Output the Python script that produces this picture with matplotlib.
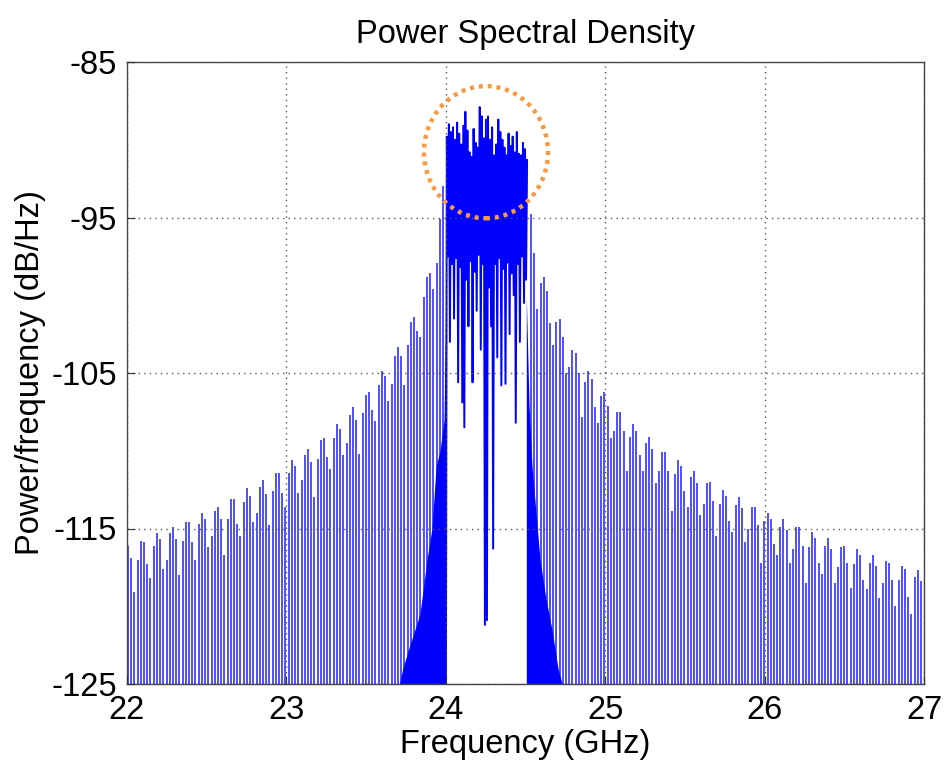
import numpy as np
import matplotlib
matplotlib.use("Agg")
import matplotlib.pyplot as plt
from matplotlib.patches import Ellipse

plt.rcParams['font.family'] = ['Liberation Sans', 'DejaVu Sans']

# ---------------- data ----------------
title = "Power Spectral Density"
xlabel = "Frequency (GHz)"
ylabel = "Power/frequency (dB/Hz)"
xticks = [22, 23, 24, 25, 26, 27]
yticks = [-125, -115, -105, -95, -85]

# lower side-lobe spike peaks (dB/Hz), evenly spaced from 22.006 to 23.982 GHz
left_range = (22.006, 23.982)
left_peaks = [
    -116.1, -116.9, -119.1, -117.0, -115.8, -115.9, -117.3, -118.2, -116.1, -115.3,
    -115.7, -117.6, -117.0, -115.3, -114.9, -115.7, -118.0, -115.8, -114.6, -114.6,
    -115.9, -117.0, -114.7, -114.0, -114.4, -116.2, -115.5, -113.9, -113.6, -114.4,
    -116.7, -114.4, -113.1, -113.1, -114.7, -115.5, -113.3, -112.4, -112.9, -114.6,
    -114.0, -112.3, -111.9, -112.8, -114.8, -112.6, -111.4, -111.4, -112.7, -113.6,
    -111.4,
    -110.6, -111.0, -112.7, -111.9, -110.3, -109.9, -110.7, -113.0, -110.5, -109.3,
    -109.2, -110.4, -111.2, -109.2, -108.3, -108.6, -110.3, -109.5, -107.7, -107.2,
    -108.0, -110.2, -107.6, -106.4, -106.2, -107.4, -108.1, -105.8, -104.9, -105.2,
    -106.8, -105.7, -103.9, -103.3, -103.9, -105.8, -103.2, -101.7, -101.4, -102.3,
    -102.7, -100.1, -98.8, -98.6, -99.6, -97.9, -95.1, -93.0,
]

# upper side-lobe spike peaks (dB/Hz), evenly spaced from 24.534 to 26.981 GHz
right_range = (24.534, 26.981)
right_peaks = [
    -94.8, -97.3, -100.9, -99.2, -98.8, -99.7, -101.8, -103.2, -101.7, -101.5,
    -102.7, -105.0, -104.6, -103.5, -103.7, -105.0, -107.8, -105.6, -104.9, -105.4,
    -107.2, -108.2, -106.5, -106.2, -107.1, -109.2, -108.7, -107.5, -107.5, -108.7,
    -111.3, -109.1, -108.3, -108.7, -110.3, -111.3, -109.5, -109.1, -109.9, -112.1,
    -111.3, -110.1, -110.1, -111.3, -113.9, -111.5, -110.6, -111.0, -112.6, -113.6,
    -111.7, -111.3, -112.1, -114.1, -113.4, -112.1, -112.0, -113.2, -115.5, -113.4,
    -112.5,
    -112.9, -114.5, -115.2, -113.5, -113.0, -113.7, -115.9, -115.0, -113.6, -113.6,
    -114.8, -117.2, -114.5, -114.0, -114.4, -116.0, -116.7, -114.9, -114.4, -115.1,
    -117.2, -116.3, -114.9, -114.9, -116.1, -118.5, -116.2, -115.2, -115.6, -117.2,
    -117.9, -116.1, -115.6, -116.3, -118.5, -117.5, -116.2, -116.1, -117.2, -118.8,
    -117.3, -116.3, -116.7, -118.3, -118.9, -117.2, -116.7, -117.4, -119.5, -118.5,
    -117.1, -117.2, -118.3, -120.0, -118.3, -117.4, -117.6, -119.4, -120.5, -118.1,
    -117.7, -118.4,
]

# dense in-band signal (24.00 - 24.51 GHz): upper and lower excursions
band_range = (24.0, 24.51)
band_top = [
    -89.8, -89.0, -89.5, -89.2, -90.0, -88.9, -89.6, -90.3, -89.1, -88.2,
    -89.4, -90.8, -91.1, -89.3, -90.2, -90.5, -87.9, -88.5, -89.9, -88.7,
    -88.5, -90.0, -89.2, -91.0, -90.3, -88.7, -89.5, -90.0, -90.5, -91.0,
    -89.6, -90.4, -89.8, -90.8, -89.5, -90.9, -91.0, -90.2, -90.6, -91.3,
]
band_bottom = [
    -130.0, -97.5, -103.0, -98.0, -101.5, -97.6, -105.6, -98.2, -106.9, -108.5,
    -99.0, -102.0, -97.8, -105.6, -98.5, -101.0, -97.4, -103.5, -98.0, -121.2,
    -120.9, -99.5, -102.0, -116.3, -98.0, -104.0, -97.6, -105.8, -98.3, -105.7,
    -97.9, -102.5, -98.6, -100.0, -108.2, -98.0, -103.0, -97.5, -100.5, -99.0,
]

# densely filled skirts next to the band edges (freq GHz, upper edge dB)
left_skirt_f = [23.71, 23.73, 23.775, 23.838, 23.882, 23.913, 23.939, 23.964, 23.989, 24.0]
left_skirt_db = [-125.0, -124.0, -122.5, -120.5, -117.0, -115.0, -111.0, -110.0, -108.0, -100.0]
right_skirt_f = [24.505, 24.522, 24.541, 24.566, 24.591, 24.628, 24.666, 24.704, 24.73]
right_skirt_db = [-100.0, -107.0, -111.0, -114.0, -117.0, -119.5, -121.5, -124.0, -125.0]

# highlighted region (orange dotted circle)
circle_center = (24.252, -90.8)
circle_size = (0.778, 8.5)

# ---------------- figure ----------------
fig = plt.figure(figsize=(9.44, 7.64), dpi=100)
ax = fig.add_axes([127 / 944, 1 - 684 / 764, 797 / 944, 622 / 764])

blue = '#0000ff'
bar_blue = '#5050ff'
floor = -140.0

lf = np.linspace(left_range[0], left_range[1], len(left_peaks))
rf = np.linspace(right_range[0], right_range[1], len(right_peaks))
ax.vlines(lf, floor, left_peaks, color=bar_blue, lw=1.4, zorder=2)
ax.vlines(rf, floor, right_peaks, color=bar_blue, lw=1.4, zorder=2)

ax.fill_between(left_skirt_f, floor, left_skirt_db, color=blue, lw=0, zorder=2.2)
ax.fill_between(right_skirt_f, floor, right_skirt_db, color=blue, lw=0, zorder=2.2)

band_vals = []
for b, t in zip(band_bottom, band_top):
    band_vals.extend([b, t])
band_f = np.linspace(band_range[0], band_range[1], len(band_vals))
ax.plot(band_f, band_vals, color=blue, lw=1.4, zorder=2.3)

ell = Ellipse(circle_center, circle_size[0], circle_size[1], fill=False,
              edgecolor='#f59a45', lw=3.2, linestyle=(0, (0.9, 1.1)), zorder=5)
ax.add_patch(ell)

ax.set_xlim(22, 27)
ax.set_ylim(-125, -85)
ax.set_xticks(xticks)
ax.set_yticks(yticks)
ax.set_xticklabels([str(v) for v in xticks])
ax.set_yticklabels([str(v) for v in yticks])
ax.tick_params(direction='in', length=6, width=0.8, labelsize=23.5, color='#333333')
ax.tick_params(axis='x', pad=8)
ax.tick_params(axis='y', pad=7)
ax.grid(True, linestyle=(0, (1, 3)), color='#555555', lw=1.0, zorder=3)
ax.set_axisbelow(False)
for s in ax.spines.values():
    s.set_color('#444444')
    s.set_linewidth(1.0)

ax.set_title(title, fontsize=23.5, pad=14)
ax.set_xlabel(xlabel, fontsize=23.5, labelpad=2)
ax.set_ylabel(ylabel, fontsize=23.5, labelpad=4)

fig.savefig("out.png", dpi=100)
